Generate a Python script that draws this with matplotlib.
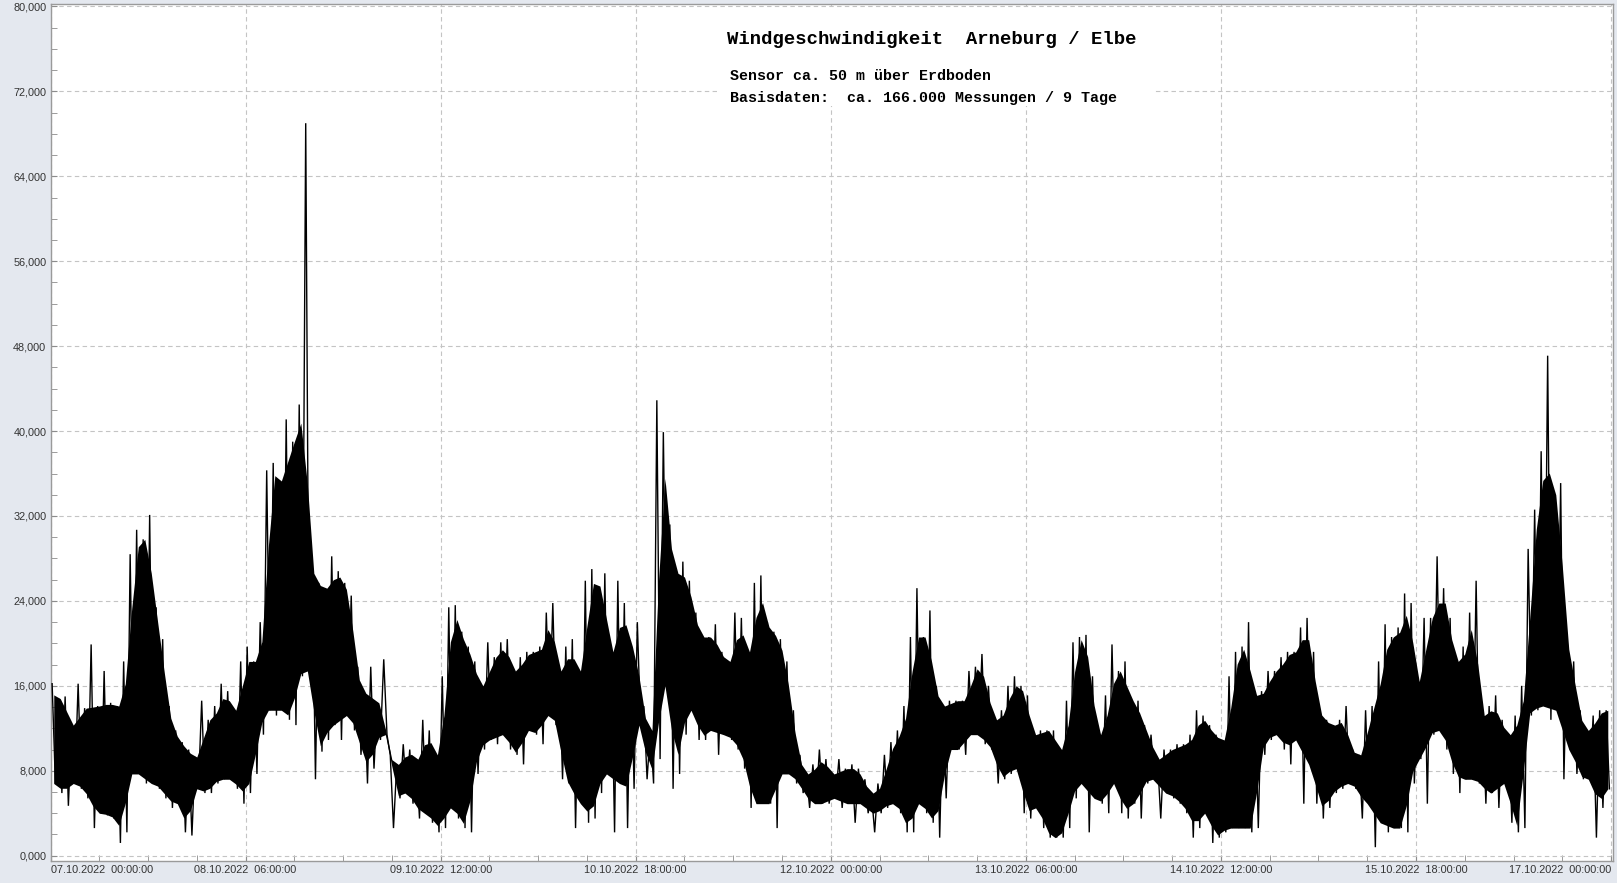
import datetime
import matplotlib
matplotlib.use("Agg")
import matplotlib.pyplot as plt
from matplotlib.patches import Rectangle
from matplotlib.ticker import FuncFormatter, MultipleLocator
import numpy as np

# hourly envelope of the wind speed (upper / lower spikes)
hour_high = [
    16.2, 14.8, 15.0, 12.3, 16.2, 13.9, 19.9, 14.1, 17.4, 14.4,
    14.1, 18.3, 28.4, 30.7, 29.8, 32.1, 23.4, 20.4, 14.1, 11.8,
    10.7, 10.0, 9.3, 14.6, 12.8, 14.1, 16.2, 15.5, 13.7, 18.3,
    19.7, 18.3, 22.0, 36.3, 37.0, 35.3, 41.1, 39.0, 42.5, 69.0,
    27.5, 25.7, 25.2, 28.2, 26.8, 25.7, 24.5, 17.8, 15.3, 17.8,
    14.4, 18.5, 9.5, 8.6, 10.5, 10.0, 9.1, 12.8, 11.8, 9.5,
    16.9, 23.4, 23.6, 21.1, 19.7, 18.3, 16.0, 20.1, 18.7, 20.1,
    20.4, 17.4, 18.7, 19.2, 19.2, 19.7, 22.9, 23.8, 17.4, 19.7,
    20.4, 17.4, 25.9, 27.0, 25.4, 26.6, 19.2, 25.9, 23.8, 19.7,
    22.0, 14.1, 11.8, 42.9, 39.9, 31.2, 26.6, 27.7, 25.9, 22.9,
    20.6, 20.6, 21.8, 19.2, 18.3, 22.9, 22.4, 19.2, 25.7, 26.4,
    22.0, 21.1, 20.4, 18.3, 13.7, 9.5, 7.7, 8.6, 10.0, 9.1,
    7.7, 9.1, 8.2, 8.6, 8.2, 7.2, 5.9, 6.8, 9.5, 10.7,
    11.8, 14.1, 20.6, 25.2, 20.6, 23.1, 16.0, 14.1, 14.6, 14.6,
    14.6, 17.4, 17.8, 19.0, 16.0, 12.8, 13.7, 16.0, 16.9, 16.0,
    15.1, 11.4, 11.8, 11.8, 11.8, 10.0, 14.6, 20.1, 20.6, 20.8,
    16.9, 11.4, 15.1, 19.9, 17.4, 18.3, 14.6, 14.6, 12.3, 11.4,
    9.1, 10.0, 10.0, 10.5, 10.5, 11.4, 13.7, 13.2, 12.3, 11.4,
    10.9, 16.9, 19.2, 19.7, 22.0, 15.1, 15.5, 17.4, 17.4, 18.7,
    19.2, 19.2, 21.5, 22.4, 19.2, 13.7, 12.8, 12.3, 12.8, 14.1,
    10.0, 9.5, 13.7, 14.1, 18.3, 21.8, 20.6, 21.5, 24.7, 23.8,
    16.4, 22.4, 22.4, 28.2, 25.2, 22.4, 18.3, 19.7, 22.9, 25.9,
    13.2, 14.1, 15.1, 12.8, 11.4, 13.2, 16.0, 28.9, 32.6, 38.1,
    47.1, 34.0, 35.1, 20.6, 18.3, 13.7, 11.8, 13.2, 13.7, 13.7,
]
hour_low = [
    6.8, 5.9, 4.7, 6.8, 6.3, 5.4, 2.6, 4.0, 3.8, 3.5,
    1.2, 2.2, 7.7, 7.7, 6.8, 6.8, 6.3, 5.4, 4.5, 4.9,
    2.2, 1.9, 6.3, 5.9, 5.9, 6.8, 7.2, 7.2, 6.3, 4.9,
    5.9, 7.7, 11.4, 13.7, 13.2, 13.7, 12.8, 12.3, 16.9, 17.4,
    7.2, 9.8, 10.9, 12.3, 10.9, 13.2, 11.8, 9.5, 6.8, 8.2,
    10.9, 11.4, 2.6, 5.4, 5.9, 4.9, 3.5, 4.0, 3.1, 2.2,
    2.6, 4.5, 3.5, 2.6, 2.2, 7.7, 10.0, 10.9, 10.5, 11.4,
    10.0, 9.5, 8.6, 11.8, 11.4, 10.5, 13.2, 12.3, 7.2, 6.8,
    2.6, 4.9, 3.1, 3.5, 5.9, 7.7, 2.2, 6.8, 2.6, 6.3,
    12.3, 7.2, 6.8, 9.1, 16.0, 6.3, 7.7, 11.4, 13.7, 10.9,
    10.9, 11.8, 9.5, 11.4, 10.9, 10.0, 8.2, 4.5, 4.9, 4.9,
    4.9, 2.6, 7.7, 7.7, 6.8, 5.9, 4.5, 4.9, 4.9, 4.9,
    5.4, 4.5, 4.9, 3.1, 4.9, 4.0, 2.2, 4.0, 4.5, 4.9,
    4.0, 2.2, 2.2, 4.9, 4.0, 3.1, 1.7, 5.4, 10.0, 10.0,
    9.5, 11.4, 11.4, 10.5, 10.0, 6.8, 7.2, 7.7, 8.2, 4.0,
    3.5, 4.5, 2.6, 1.7, 1.7, 1.7, 2.6, 5.4, 6.8, 2.2,
    5.4, 4.9, 4.0, 6.8, 4.0, 3.5, 4.9, 3.5, 6.8, 7.2,
    3.5, 5.9, 5.4, 4.9, 4.0, 1.7, 2.6, 4.0, 1.2, 1.7,
    2.2, 2.6, 2.6, 2.6, 2.2, 2.6, 9.5, 10.9, 11.4, 10.0,
    8.6, 10.9, 4.9, 8.6, 4.9, 3.5, 4.5, 5.9, 6.3, 6.8,
    6.3, 3.5, 4.9, 0.8, 3.1, 2.2, 2.6, 2.6, 2.2, 6.8,
    9.1, 4.9, 11.4, 11.8, 10.0, 7.7, 5.9, 7.2, 7.2, 6.8,
    4.9, 5.9, 4.5, 6.8, 3.1, 2.2, 2.6, 13.2, 13.7, 14.1,
    12.8, 13.7, 7.2, 10.0, 7.7, 7.2, 7.2, 1.7, 4.5, 6.3,
]

start_time = datetime.datetime(2022, 10, 7, 0, 0, 0)
tick_step_hours = 30
n_major_ticks = 9
y_ticks = [0, 8, 16, 24, 32, 40, 48, 56, 64, 72, 80]

TITLE = "Windgeschwindigkeit  Arneburg / Elbe"
SUB_1 = "Sensor ca. 50 m über Erdboden"
SUB_2 = "Basisdaten:  ca. 166.000 Messungen / 9 Tage"

W, H = 1617, 883
BG = "#e4e8ef"


def zigzag(high, low):
    # upper value in the first half of each hour, lower value in the second
    t, v = [], []
    for h in range(len(high)):
        t.append(h + 0.25)
        v.append(high[h])
        t.append(h + 0.75)
        v.append(low[h])
    return np.array(t), np.array(v)


def solid_core(high, low):
    # the part the neighbouring hours reach as well is solid black in the
    # picture, what sticks out beyond it are single spikes
    high, low = np.array(high), np.array(low)
    core_top, core_bottom = high.copy(), low.copy()
    for h in range(len(high)):
        a, b = max(h - 1, 0), min(h + 2, len(high))
        core_top[h] = 0.5 * (high[a:b].min() + np.median(high[a:b]))
        core_bottom[h] = 0.5 * (low[a:b].max() + np.median(low[a:b]))
    core_top = np.minimum(core_top, high)
    core_bottom = np.minimum(np.maximum(core_bottom, low), core_top)
    return core_top, core_bottom


def german_number(value, pos):
    return ("%.3f" % value).replace(".", ",")


def tick_labels():
    labels = []
    for k in range(n_major_ticks):
        moment = start_time + datetime.timedelta(hours=k * tick_step_hours)
        labels.append(moment.strftime("%d.%m.%Y  %H:%M:%S"))
    return labels


fig = plt.figure(figsize=(W / 100, H / 100), dpi=100, facecolor=BG)
ax = fig.add_axes([50.5 / W, 1 - 861 / H, (1613 - 50.5) / W, (861 - 4.3) / H])
ax.set_facecolor("white")

hours = np.arange(len(hour_high)) + 0.5
core_top, core_bottom = solid_core(hour_high, hour_low)
ax.fill_between(hours, core_bottom, core_top, color="black", lw=0, zorder=3)
t, v = zigzag(hour_high, hour_low)
ax.plot(t, v, color="black", lw=1.0, solid_joinstyle="miter", zorder=3)

ax.set_xlim(0, 240.3)
ax.set_ylim(-0.5, 80.2)

ax.set_xticks([k * tick_step_hours for k in range(n_major_ticks)])
ax.set_xticklabels(tick_labels())
ax.xaxis.set_minor_locator(MultipleLocator(7.5))
ax.set_yticks(y_ticks)
ax.yaxis.set_major_formatter(FuncFormatter(german_number))
ax.yaxis.set_minor_locator(MultipleLocator(2))

ax.tick_params(which="both", direction="in", length=4, color="#8c8c8c",
               labelsize=7.8, labelcolor="#333333", pad=3)
for lab in ax.get_xticklabels() + ax.get_yticklabels():
    lab.set_family("Liberation Sans")
xlabs = ax.get_xticklabels()
xlabs[0].set_ha("left")
xlabs[-1].set_ha("right")

ax.grid(True, which="major", color="#c4c4c4", lw=0.8, linestyle=(0, (4, 3)))
ax.set_axisbelow(True)
for side in ax.spines.values():
    side.set_color("#9a9a9a")
    side.set_linewidth(1)

# white box behind the heading, it hides the grid there
fig.add_artist(Rectangle((717 / W, 1 - 106 / H), 436 / W, 98 / H,
                         transform=fig.transFigure, facecolor="white",
                         edgecolor="none", zorder=5))
fig.text(727 / W, 1 - 40 / H, TITLE, family="Liberation Mono", weight="bold",
         size=13.6, va="center", ha="left", zorder=6)
fig.text(730 / W, 1 - 76 / H, SUB_1, family="Liberation Mono", weight="bold",
         size=10.8, va="center", ha="left", zorder=6)
fig.text(730 / W, 1 - 98 / H, SUB_2, family="Liberation Mono", weight="bold",
         size=10.8, va="center", ha="left", zorder=6)

fig.savefig("out.png", dpi=100, facecolor=BG)
